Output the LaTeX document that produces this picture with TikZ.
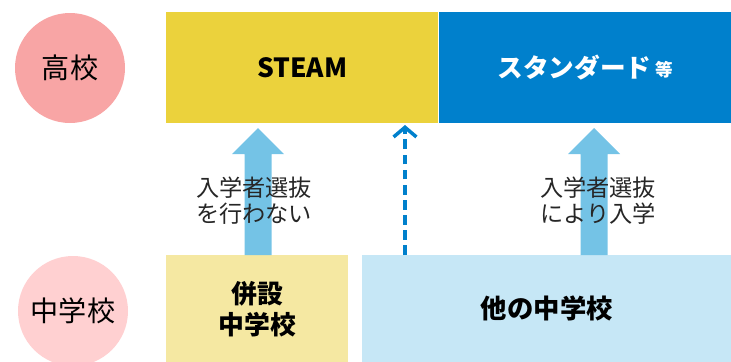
\documentclass[tikz,border=0pt]{standalone}
\usepackage{fontspec}
\setmainfont{Noto Sans CJK JP}
\usetikzlibrary{arrows.meta}
\definecolor{steamY}{HTML}{EBD23C}
\definecolor{stdB}{HTML}{0080CC}
\definecolor{heiY}{HTML}{F5E8A2}
\definecolor{taB}{HTML}{C6E7F6}
\definecolor{arrB}{HTML}{74C3E6}
\definecolor{pinkA}{HTML}{F8A5A5}
\definecolor{pinkB}{HTML}{FFD0D1}
\tikzset{
  box/.style={inner sep=0pt,anchor=north west,font=\bfseries},
  lbl/.style={align=center,text=black!85,font=\fontsize{13.2}{14.8}\selectfont},
}
\begin{document}
\begin{tikzpicture}[x=0.02cm,y=-0.02cm]
				\useasboundingbox (0,0) rectangle (731,362);
				\def\hw{13.5} \def\hd{26}
				% high school row
				\node[box,fill=steamY,minimum width=272*0.02cm,minimum height=111*0.02cm,font=\bfseries\fontsize{15}{17}\selectfont] (steam) at (166,12) {STEAM};
				\node[box,fill=stdB,text=white,minimum width=292*0.02cm,minimum height=111*0.02cm,font=\bfseries\fontsize{14.6}{17}\selectfont] (std) at (439,12) {スタンダード\,\raisebox{0.5pt}{\fontsize{10}{11}\selectfont 等}};
				% junior high row
				\node[box,fill=heiY,align=center,minimum width=182*0.02cm,minimum height=107*0.02cm,font=\bfseries\fontsize{14.7}{17.6}\selectfont] (hei) at (166,255) {併設\\中学校};
				\node[box,fill=taB,minimum width=369*0.02cm,minimum height=107*0.02cm,font=\bfseries\fontsize{15}{17}\selectfont] (ta) at (362,255) {他の中学校};
				% circles
				\fill[pinkA] (70,68) circle (55*0.02cm);
				\node[font=\fontsize{16}{18}\selectfont] (hs) at (70,68) {高校};
				\fill[pinkB] (73,311) circle (55*0.02cm);
				\node[font=\fontsize{16}{18}\selectfont] (js) at (73,311) {中学校};
				% wide arrows
				\foreach \cx in {258,594}{
				  \fill[arrB] ({\cx-\hw},255) -- ({\cx-\hw},154) -- ({\cx-\hd},154) -- (\cx,128) -- ({\cx+\hd},154) -- ({\cx+\hw},154) -- ({\cx+\hw},255) -- cycle;
				}
				\node[lbl] (t1) at (254,201) {入学者選抜\\を行わない};
				\node[lbl] (t2) at (598,201) {入学者選抜\\により入学};
				% dashed arrow
				\coordinate (d0) at (405,255);
				\coordinate (d1) at (405,125);
				\draw[stdB,line width=2.1pt,dash pattern=on 5.6pt off 3pt,-{Straight Barb[length=5.5pt,width=13pt,line width=2pt]}] (d0) -- (d1);
\end{tikzpicture}
\end{document}
